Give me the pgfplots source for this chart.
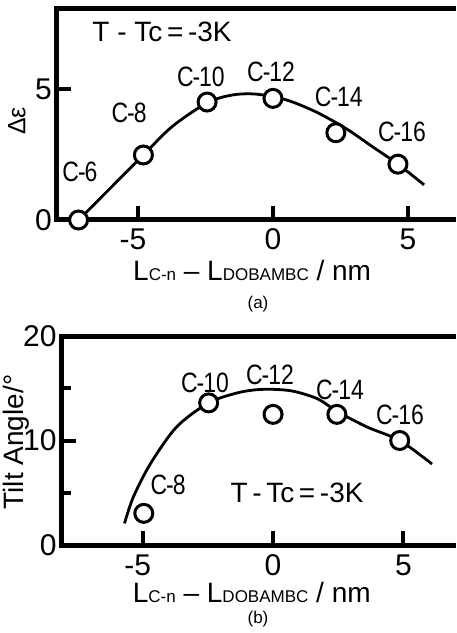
\documentclass[border=0pt]{standalone}
\usepackage{pgfplots}
\pgfplotsset{compat=1.18}
\usepackage{fontspec}
\setmainfont{Liberation Sans}
\newfontfamily\labf[FakeStretch=0.82]{Liberation Sans}
\newcommand{\fbig}{\fontsize{28}{30}\selectfont}
\newcommand{\ftick}{\fontsize{30}{32}\selectfont}
\newcommand{\fsub}{\fontsize{17}{18}\selectfont}
\newcommand{\fcap}{\fontsize{17}{19}\selectfont}
\newcommand{\clab}[1]{{\labf\fbig C\kern-1pt-\kern-1pt#1}}
\pgfplotsset{
  myax/.style={
    scale only axis, clip=false,
    axis line style={draw=none},
    tick pos=left, tick align=inside,
    major tick length=14pt, minor tick length=9pt,
    major tick style={black, line width=4pt},
    minor tick style={black, line width=4pt},
    xtick={-5,0,5}, xticklabels={\llap{-}5,0,5},
    xticklabel style={font=\ftick, anchor=base, inner sep=0pt, yshift=-30pt},
    yticklabel style={font=\ftick, anchor=east, inner sep=0pt, xshift=-5pt},
  },
}
\begin{document}
\begin{tikzpicture}
\path[use as bounding box] (0,0) rectangle (456pt,633pt);
% ---------------- panel (a)
\begin{axis}[myax, at={(57pt,413pt)}, anchor=south west,
  width=399pt, height=211pt,
  xmin=-8, xmax=6.78, ymin=0, ymax=8.05,
  ytick={0,5}, yticklabels={0,5},
  xlabel={L{\fsub C-n} -- L{\fsub DOBAMBC} / nm},
  xlabel style={font=\fbig, at={(axis description cs:0.489,0)}, anchor=base, inner sep=0pt, yshift=-61pt},
  ylabel={Δε},
  ylabel style={font=\fontsize{25}{26}\selectfont, at={([xshift=-40pt]axis description cs:0,0.469)}, anchor=center},
]
\draw[line width=5pt] (rel axis cs:1,1) -- (rel axis cs:0,1) -- (rel axis cs:0,0) -- (rel axis cs:1,0);
\addplot[smooth, line width=2.8pt] coordinates {
  (-7.2,0) (-6,1.24) (-4.8,2.48) (-3.74,3.56) (-2.44,4.47) (-1.5,4.77) (-0.6,4.8)
  (0.5,4.58) (1.58,4.13) (2.69,3.5) (3.68,2.8) (4.63,2.13) (5.6,1.34)};
\addplot[only marks, mark=*, mark size=9pt, mark options={fill=white, draw=black, line width=3pt}]
  coordinates {(-7.2,0) (-4.8,2.48) (-2.44,4.5) (0,4.64) (2.33,3.33) (4.63,2.13)};
\node[font=\fbig] at (axis cs:-4.11,7.18) {T - Tc\,=\,-3K};
\node at (axis cs:-7.15,1.83) {\clab{6}};
\node at (axis cs:-5.33,4.08) {\clab{8}};
\node at (axis cs:-2.67,5.46) {\clab{10}};
\node at (axis cs:-0.07,5.65) {\clab{12}};
\node at (axis cs:2.44,4.69) {\clab{14}};
\node at (axis cs:4.78,3.36) {\clab{16}};
\end{axis}
\node[font=\fcap] at (258pt,329pt) {(a)};
% ---------------- panel (b)
\begin{axis}[myax, at={(61.7pt,88pt)}, anchor=south west,
  width=394.3pt, height=209pt,
  xmin=-8.11, xmax=7.02, ymin=0, ymax=20,
  ytick={0,10,20}, yticklabels={0,10,20}, minor ytick={5,15},
  xlabel={L{\fsub C-n} -- L{\fsub DOBAMBC} / nm},
  xlabel style={font=\fbig, at={(axis description cs:0.482,0)}, anchor=base, inner sep=0pt, yshift=-57pt},
  ylabel={Tilt Angle/°},
  ylabel style={font=\fbig, at={([xshift=-45pt]axis description cs:0,0.493)}, anchor=center},
]
\draw[line width=5pt] (rel axis cs:1,1) -- (rel axis cs:0,1) -- (rel axis cs:0,0) -- (rel axis cs:1,0);
\addplot[smooth, line width=2.8pt] coordinates {
  (-5.7,2.07) (-5.36,4.6) (-4.7,7.8) (-3.7,11.3) (-2.47,13.6) (-1.3,14.6) (-0.35,14.9)
  (0.7,14.75) (1.7,14.0) (2.45,12.8) (3.6,11.3) (4.86,10.0) (6.1,7.75)};
\addplot[only marks, mark=*, mark size=9pt, mark options={fill=white, draw=black, line width=3pt}]
  coordinates {(-4.96,3.03) (-2.47,13.6) (0,12.5) (2.45,12.5) (4.86,10.0)};
\node[font=\fbig] at (axis cs:0.92,4.98) {T\,-\,Tc\,=\,-3K};
\node at (axis cs:-4.03,5.74) {\clab{8}};
\node at (axis cs:-2.61,15.5) {\clab{10}};
\node at (axis cs:-0.12,16.27) {\clab{12}};
\node at (axis cs:2.57,14.83) {\clab{14}};
\node at (axis cs:4.87,12.44) {\clab{16}};
\end{axis}
\node[font=\fcap] at (258pt,14pt) {(b)};
\end{tikzpicture}
\end{document}
